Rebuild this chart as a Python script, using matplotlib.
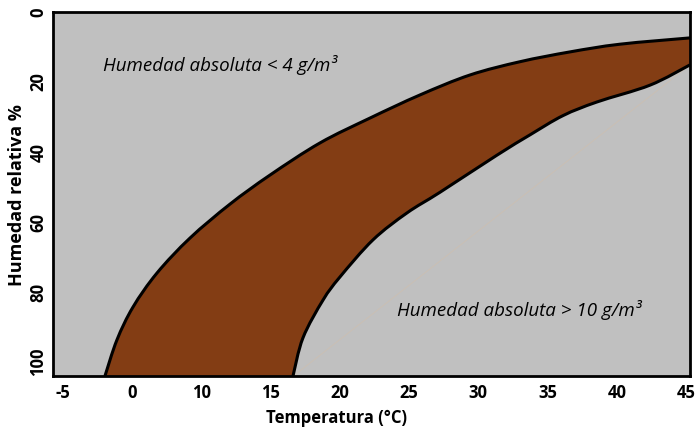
import matplotlib
matplotlib.use("Agg")
import matplotlib.pyplot as plt
from matplotlib.path import Path
from matplotlib.patches import PathPatch

# Data (temperature °C, relative humidity %)
upper_T = [-1.63, -0.67, 0.62, 2.54, 5.19, 8.40, 11.61, 15.63, 19.64, 23.65, 27.66, 31.68, 35.69, 39.70, 45.32]
upper_RH = [104, 93.7, 84.3, 74.6, 64.6, 54.9, 46.6, 37.4, 30.3, 23.7, 18.0, 14.2, 11.4, 9.2, 7.4]
lower_T = [13.46, 14.26, 15.87, 17.23, 19.88, 22.61, 25.26, 29.83, 32.48, 35.13, 37.86, 42.11, 45.32]
lower_RH = [104, 93.1, 82.3, 75.7, 65.1, 57.4, 51.5, 40.9, 35.1, 29.6, 25.7, 20.9, 15.1]
diag_T = [13.5, 45.32]
diag_RH = [104, 15.1]
xtick_labels = ["-5", "0", "10", "15", "20", "25", "30", "35", "40", "45"]
yticks = [0, 20, 40, 60, 80, 100]

FONT = ["Open Sans", "DejaVu Sans"]
plt.rcParams['font.family'] = FONT


def smooth_path(xs, ys):
    """Catmull-Rom spline through the points, as cubic Bezier path."""
    pts = list(zip(xs, ys))
    n = len(pts)
    verts = [pts[0]]
    codes = [Path.MOVETO]
    for i in range(n - 1):
        p0 = pts[i - 1] if i > 0 else pts[i]
        p1 = pts[i]
        p2 = pts[i + 1]
        p3 = pts[i + 2] if i + 2 < n else pts[i + 1]
        c1 = (p1[0] + (p2[0] - p0[0]) / 6, p1[1] + (p2[1] - p0[1]) / 6)
        c2 = (p2[0] - (p3[0] - p1[0]) / 6, p2[1] - (p3[1] - p1[1]) / 6)
        verts += [c1, c2, p2]
        codes += [Path.CURVE4] * 3
    return verts, codes


fig = plt.figure(figsize=(6.97, 4.30), dpi=100)
ax = fig.add_axes([53/697, 54/430, (690-53)/697, (376-12)/430])
ax.set_facecolor("#c0c0c0")

uv, uc = smooth_path(upper_T, upper_RH)
lv, lc = smooth_path(lower_T[::-1], lower_RH[::-1])
fill_verts = uv + lv + [uv[0]]
fill_codes = uc + [Path.LINETO] + lc[1:] + [Path.CLOSEPOLY]
ax.add_patch(PathPatch(Path(fill_verts, fill_codes), facecolor="#833d14", edgecolor="none", zorder=2))

ax.plot(diag_T, diag_RH, color="#cbbfb2", lw=0.6, zorder=1)
ax.add_patch(PathPatch(Path(uv, uc), facecolor="none", edgecolor="black", lw=2.2, zorder=3))
lv2, lc2 = smooth_path(lower_T, lower_RH)
ax.add_patch(PathPatch(Path(lv2, lc2), facecolor="none", edgecolor="black", lw=2.2, zorder=3))

ax.set_xlim(-5.8, 45.32)
ax.set_ylim(104, 0)

# x ticks: evenly spaced positions, labels as printed in the original
pos = [-5 + i * 50 / 9 for i in range(len(xtick_labels))]
ax.set_xticks(pos)
ax.set_xticklabels(xtick_labels, fontweight="bold", fontsize=12)
ax.set_yticks(yticks)
ax.set_yticklabels([str(v) for v in yticks], fontweight="bold", fontsize=12, rotation=90, va="center")
ax.tick_params(axis="x", length=0, pad=6)
ax.tick_params(axis="y", length=0, pad=4)

for s in ax.spines.values():
    s.set_linewidth(2)
    s.set_color("black")

ax.set_xlabel("Temperatura (°C)", fontweight="bold", fontsize=12)
ax.xaxis.set_label_coords((337-53)/637, -0.09)
ax.set_ylabel("Humedad relativa %", fontweight="bold", fontsize=13)
ax.yaxis.set_label_coords(-0.042, (376-195)/364)

ax.text(-1.79, 15.1, "Humedad absoluta < 4 g/m³", style="italic", fontsize=13.5, va="center", ha="left")
ax.text(21.8, 85.1, "Humedad absoluta > 10 g/m³", style="italic", fontsize=13.5, va="center", ha="left")

fig.savefig("out.png", dpi=100)
